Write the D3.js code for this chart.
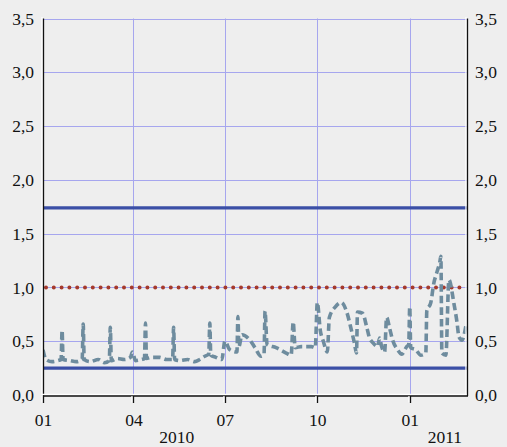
<!DOCTYPE html>
<html>
<head>
<meta charset="utf-8">
<script src="https://cdn.jsdelivr.net/npm/d3@7/dist/d3.min.js"></script>
<style>
  html, body { margin: 0; padding: 0; background: #eeeeee; }
  svg { display: block; }
  text { font-family: "Liberation Serif", "Times New Roman", serif; fill: #111; }
</style>
</head>
<body>
<svg id="chart" width="507" height="447"></svg>
<script>
// Observation dates and values of the series
const dates = [
  "2010-01-01","2010-01-04","2010-01-10","2010-01-16","2010-01-19","2010-01-20","2010-01-21",
  "2010-01-28","2010-02-03","2010-02-09","2010-02-10","2010-02-11","2010-02-17","2010-02-25",
  "2010-03-03","2010-03-08","2010-03-09","2010-03-10","2010-03-16","2010-03-23","2010-03-29",
  "2010-03-31","2010-04-03","2010-04-09","2010-04-12","2010-04-13","2010-04-14","2010-04-19",
  "2010-04-27","2010-05-04","2010-05-10","2010-05-11","2010-05-12","2010-05-17","2010-05-25",
  "2010-06-01","2010-06-06","2010-06-11","2010-06-15","2010-06-16","2010-06-17","2010-06-22",
  "2010-06-28","2010-07-01","2010-07-06","2010-07-13","2010-07-14","2010-07-15","2010-07-18",
  "2010-07-26","2010-07-31","2010-08-06","2010-08-09","2010-08-10","2010-08-12","2010-08-21",
  "2010-08-31","2010-09-05","2010-09-07","2010-09-09","2010-09-15","2010-09-25","2010-09-29",
  "2010-10-01","2010-10-04","2010-10-07","2010-10-11","2010-10-13","2010-10-19","2010-10-25",
  "2010-10-30","2010-11-04","2010-11-07","2010-11-09","2010-11-10","2010-11-15","2010-11-19",
  "2010-11-22","2010-11-25","2010-11-30","2010-12-02","2010-12-04","2010-12-07","2010-12-09",
  "2010-12-12","2010-12-15","2010-12-20","2010-12-24","2010-12-29","2010-12-31","2011-01-01",
  "2011-01-02","2011-01-07","2011-01-12","2011-01-17","2011-01-18","2011-01-22","2011-01-25",
  "2011-01-28","2011-01-31","2011-02-01","2011-02-02","2011-02-06","2011-02-09","2011-02-14",
  "2011-02-17","2011-02-19","2011-02-22","2011-02-26"
];
const values = [
  0.42,0.33,0.31,0.32,0.33,0.60,0.33,
  0.32,0.31,0.33,0.66,0.33,0.31,0.33,
  0.30,0.32,0.63,0.32,0.34,0.33,0.35,
  0.40,0.32,0.33,0.34,0.67,0.34,0.35,
  0.35,0.33,0.33,0.63,0.33,0.32,0.33,
  0.31,0.33,0.36,0.38,0.67,0.37,0.35,
  0.33,0.50,0.42,0.40,0.73,0.45,0.56,
  0.51,0.44,0.36,0.38,0.78,0.47,0.44,
  0.39,0.37,0.68,0.44,0.45,0.45,0.44,
  0.86,0.60,0.50,0.40,0.72,0.82,0.86,
  0.78,0.60,0.48,0.39,0.77,0.76,0.64,
  0.53,0.49,0.45,0.53,0.45,0.40,0.72,
  0.62,0.51,0.42,0.38,0.45,0.47,0.82,
  0.44,0.42,0.37,0.39,0.78,0.86,1.04,
  1.14,1.24,1.29,0.39,0.37,1.07,0.85,
  0.68,0.54,0.51,0.65
];

// Horizontal reference levels
const upperBand = 1.74;
const lowerBand = 0.25;
const midLevel = 1.0;

// Axis ticks and labels
const yTicks = [0, 0.5, 1.0, 1.5, 2.0, 2.5, 3.0, 3.5];
const xTickDates = ["2010-01-01","2010-04-01","2010-07-01","2010-10-01","2011-01-01"];
const xTickLabels = ["01","04","07","10","01"];
const yearLabels = ["2010","2011"];
const xDomain = ["2010-01-01","2011-02-27"];

const parse = d3.utcParse("%Y-%m-%d");
const series = dates.map((d, i) => ({ date: parse(d), value: values[i] }));

const plotLeft = 43, plotRight = 467, plotTop = 18.5, plotBottom = 395;
const fontSize = 17.5;

const svg = d3.select("#chart");
svg.append("rect").attr("width", 507).attr("height", 447).attr("fill", "#eeeeee");

const x = d3.scaleUtc().domain(xDomain.map(parse)).range([plotLeft, plotRight]);
const y = d3.scaleLinear().domain([0, 3.5]).range([plotBottom, plotTop]);

const locale = d3.formatLocale({ decimal: ",", thousands: " ", grouping: [3], currency: ["", ""] });
const fmt = locale.format(".1f");

// Grid
const grid = svg.append("g").attr("stroke", "#a6a6ee").attr("stroke-width", 1);
grid.selectAll("line.h").data(yTicks.filter(v => v > 0)).join("line")
  .attr("x1", plotLeft).attr("x2", plotRight)
  .attr("y1", d => Math.round(y(d)) + 0.5).attr("y2", d => Math.round(y(d)) + 0.5);
grid.selectAll("line.v").data(xTickDates.slice(1).map(parse)).join("line")
  .attr("x1", d => Math.round(x(d)) + 0.5).attr("x2", d => Math.round(x(d)) + 0.5)
  .attr("y1", plotTop).attr("y2", plotBottom);

svg.append("clipPath").attr("id", "clip").append("rect")
  .attr("x", plotLeft).attr("y", plotTop - 2)
  .attr("width", plotRight - plotLeft).attr("height", plotBottom - plotTop + 2);
const plot = svg.append("g").attr("clip-path", "url(#clip)");

// Reference lines
[upperBand, lowerBand].forEach(v => {
  plot.append("line").attr("x1", plotLeft).attr("x2", plotRight)
    .attr("y1", y(v)).attr("y2", y(v))
    .attr("stroke", "#3b4fa6").attr("stroke-width", 3.2);
});
plot.append("line").attr("x1", plotLeft + 3).attr("x2", plotRight)
  .attr("y1", y(midLevel)).attr("y2", y(midLevel))
  .attr("stroke", "#a5392b").attr("stroke-width", 4)
  .attr("stroke-linecap", "round").attr("stroke-dasharray", "0 7.8");

// Series
const line = d3.line().x(d => x(d.date)).y(d => y(d.value)).curve(d3.curveMonotoneX);
plot.append("path").datum(series)
  .attr("d", line)
  .attr("fill", "none")
  .attr("stroke", "#6e8c9e")
  .attr("stroke-width", 3.6)
  .attr("stroke-dasharray", "7.5 4");

// Axes frame with a light shadow line
function frameLine(x1, y1, x2, y2) {
  svg.append("line").attr("x1", x1 - 1.5).attr("y1", y1 - 1.5).attr("x2", x2 - 1.5).attr("y2", y2 - 1.5)
    .attr("stroke", "#ffffff").attr("stroke-width", 1.3);
  svg.append("line").attr("x1", x1).attr("y1", y1).attr("x2", x2).attr("y2", y2)
    .attr("stroke", "#111111").attr("stroke-width", 1.3);
}
frameLine(plotLeft + 0.5, plotTop, plotLeft + 0.5, plotBottom + 1);
frameLine(plotRight + 0.5, plotTop, plotRight + 0.5, plotBottom + 1);
frameLine(plotLeft, plotBottom + 1, plotRight + 1, plotBottom + 1);

// Bottom axis ticks and labels
const xAxis = d3.axisBottom(x)
  .tickValues(xTickDates.map(parse))
  .tickFormat((d, i) => xTickLabels[i])
  .tickSize(0).tickPadding(19);
const gx = svg.append("g").attr("transform", `translate(0,${plotBottom})`).call(xAxis);
gx.select(".domain").remove();
gx.selectAll("text").attr("font-size", fontSize).attr("font-family", "Liberation Serif").attr("fill", "#111");
xTickDates.map(parse).forEach(d => {
  const px = Math.round(x(d)) + 0.5;
  svg.append("line").attr("x1", px - 1.5).attr("x2", px - 1.5).attr("y1", plotBottom + 1).attr("y2", plotBottom + 7.5)
    .attr("stroke", "#fff").attr("stroke-width", 1.3);
  svg.append("line").attr("x1", px).attr("x2", px).attr("y1", plotBottom + 1).attr("y2", plotBottom + 8)
    .attr("stroke", "#111").attr("stroke-width", 1.3);
});

// Year labels
const yearX = [x(parse("2010-05-14")), x(parse("2011-02-05"))];
svg.selectAll("text.year").data(yearLabels).join("text")
  .attr("class", "year")
  .attr("x", (d, i) => yearX[i]).attr("y", 443)
  .attr("text-anchor", "middle").attr("font-size", fontSize).text(d => d);

// Left and right value axes
const yLeft = d3.axisLeft(y).tickValues(yTicks).tickFormat(fmt).tickSize(0).tickPadding(9);
const gl = svg.append("g").attr("transform", `translate(${plotLeft},0)`).call(yLeft);
gl.select(".domain").remove();
gl.selectAll("text").attr("font-size", fontSize).attr("font-family", "Liberation Serif").attr("fill", "#111");

const yRight = d3.axisRight(y).tickValues(yTicks).tickFormat(fmt).tickSize(0).tickPadding(8);
const gr = svg.append("g").attr("transform", `translate(${plotRight},0)`).call(yRight);
gr.select(".domain").remove();
gr.selectAll("text").attr("font-size", fontSize).attr("font-family", "Liberation Serif").attr("fill", "#111");
</script>
</body>
</html>
